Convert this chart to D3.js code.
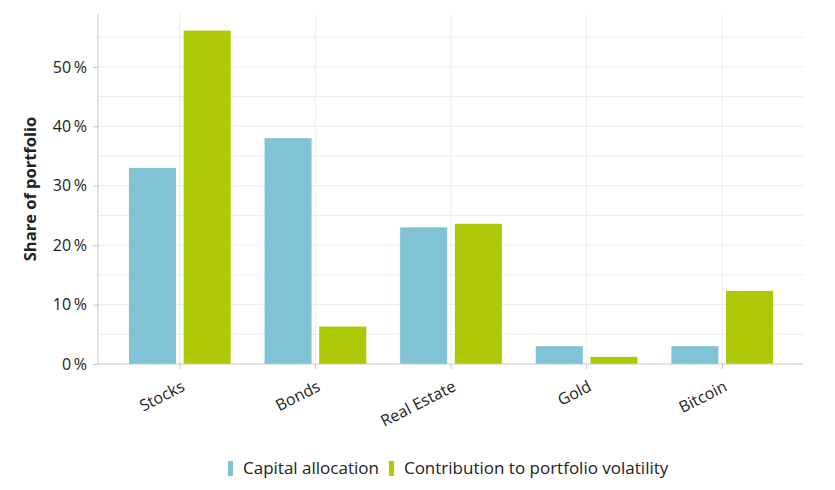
<!DOCTYPE html>
<html>
<head>
<meta charset="utf-8">
<script src="https://cdn.jsdelivr.net/npm/d3@7"></script>
<style>
  body { margin: 0; background: #fff; }
  text { font-family: "Open Sans", "Noto Sans", sans-serif; fill: #222; }
</style>
</head>
<body>
<div id="chart"></div>
<script>
var categories = ["Stocks", "Bonds", "Real Estate", "Gold", "Bitcoin"];
var seriesNames = ["Capital allocation", "Contribution to portfolio volatility"];
var capital = [33, 38, 23, 3, 3];
var volatility = [56.1, 6.3, 23.6, 1.2, 12.3];
var yTicks = [0, 10, 20, 30, 40, 50];
var colors = ["#80c3d7", "#adc906"];

var svgWidth = 835, svgHeight = 490;
var margin = { top: 14, right: 32, bottom: 126, left: 98 };
var width = svgWidth - margin.left - margin.right;
var height = svgHeight - margin.top - margin.bottom;

var svg = d3.select("#chart").append("svg")
    .attr("width", svgWidth)
    .attr("height", svgHeight);

var chartGroup = svg.append("g")
    .attr("transform", `translate(${margin.left}, ${margin.top})`);

var x0 = d3.scaleBand()
    .domain(categories)
    .range([14, width - 13])
    .paddingInner(0.25)
    .paddingOuter(0.125);

var x1 = d3.scaleBand()
    .domain(seriesNames)
    .range([0, x0.bandwidth()])
    .paddingInner(0.14);

var y = d3.scaleLinear()
    .domain([0, 58.9])
    .range([height, 0]);

// grid: minor every 5%, vertical at category centres
chartGroup.append("g")
    .selectAll("line")
    .data(d3.range(5, 58, 5))
    .enter().append("line")
    .attr("x1", 0).attr("x2", width)
    .attr("y1", d => y(d)).attr("y2", d => y(d))
    .attr("stroke", "#ececec");

chartGroup.append("g")
    .selectAll("line")
    .data(categories)
    .enter().append("line")
    .attr("x1", d => x0(d) + x0.bandwidth() / 2)
    .attr("x2", d => x0(d) + x0.bandwidth() / 2)
    .attr("y1", 0).attr("y2", height)
    .attr("stroke", "#ececec");

var rows = categories.map((c, i) => ({ cat: c, values: [capital[i], volatility[i]] }));

chartGroup.append("g")
    .selectAll("g")
    .data(rows)
    .enter().append("g")
    .attr("transform", d => `translate(${x0(d.cat)}, 0)`)
    .selectAll("rect")
    .data(d => d.values.map((v, j) => ({ key: seriesNames[j], value: v, idx: j })))
    .enter().append("rect")
    .attr("x", d => x1(d.key))
    .attr("width", x1.bandwidth())
    .attr("y", d => y(d.value))
    .attr("height", d => height - y(d.value))
    .attr("fill", d => colors[d.idx]);

// y axis
var leftAxis = d3.axisLeft(y)
    .tickValues(yTicks)
    .tickSize(5)
    .tickPadding(6)
    .tickFormat(d => d + "\u2009%");

var yAxis = chartGroup.append("g").call(leftAxis);
yAxis.select(".domain").attr("stroke", "#c8c8c8").attr("d", `M0,0V${height}`);
yAxis.selectAll(".tick line").attr("stroke", "#c8c8c8");
yAxis.selectAll("text").attr("font-size", "16px").style("fill", "#222");

// x axis
var bottomAxis = d3.axisBottom(x0).tickSize(5).tickPadding(4);
var xAxis = chartGroup.append("g")
    .attr("transform", `translate(0, ${height})`)
    .call(bottomAxis);
xAxis.select(".domain").attr("stroke", "#c8c8c8").attr("d", `M0,0H${width}`);
xAxis.selectAll(".tick line").attr("stroke", "#c8c8c8");
xAxis.selectAll("text")
    .attr("font-size", "16px")
    .style("fill", "#222")
    .attr("text-anchor", "end")
    .attr("dy", "0")
    .attr("y", 0)
    .attr("transform", "translate(6, 26) rotate(-27)");

// y label
svg.append("text")
    .attr("transform", `translate(36, 189) rotate(-90)`)
    .attr("text-anchor", "middle")
    .attr("font-size", "16.5px")
    .attr("font-weight", "bold")
    .text("Share of portfolio");

// legend
var legend = svg.append("g").attr("transform", "translate(228, 461)");
var lx = 0;
seriesNames.forEach(function(name, i) {
    legend.append("rect")
        .attr("x", lx).attr("y", 0)
        .attr("width", 5).attr("height", 15)
        .attr("fill", colors[i]);
    var t = legend.append("text")
        .attr("x", lx + 15).attr("y", 13)
        .attr("font-size", "17px")
        .text(name);
    lx += 15 + t.node().getComputedTextLength() + 10;
});
</script>
</body>
</html>
